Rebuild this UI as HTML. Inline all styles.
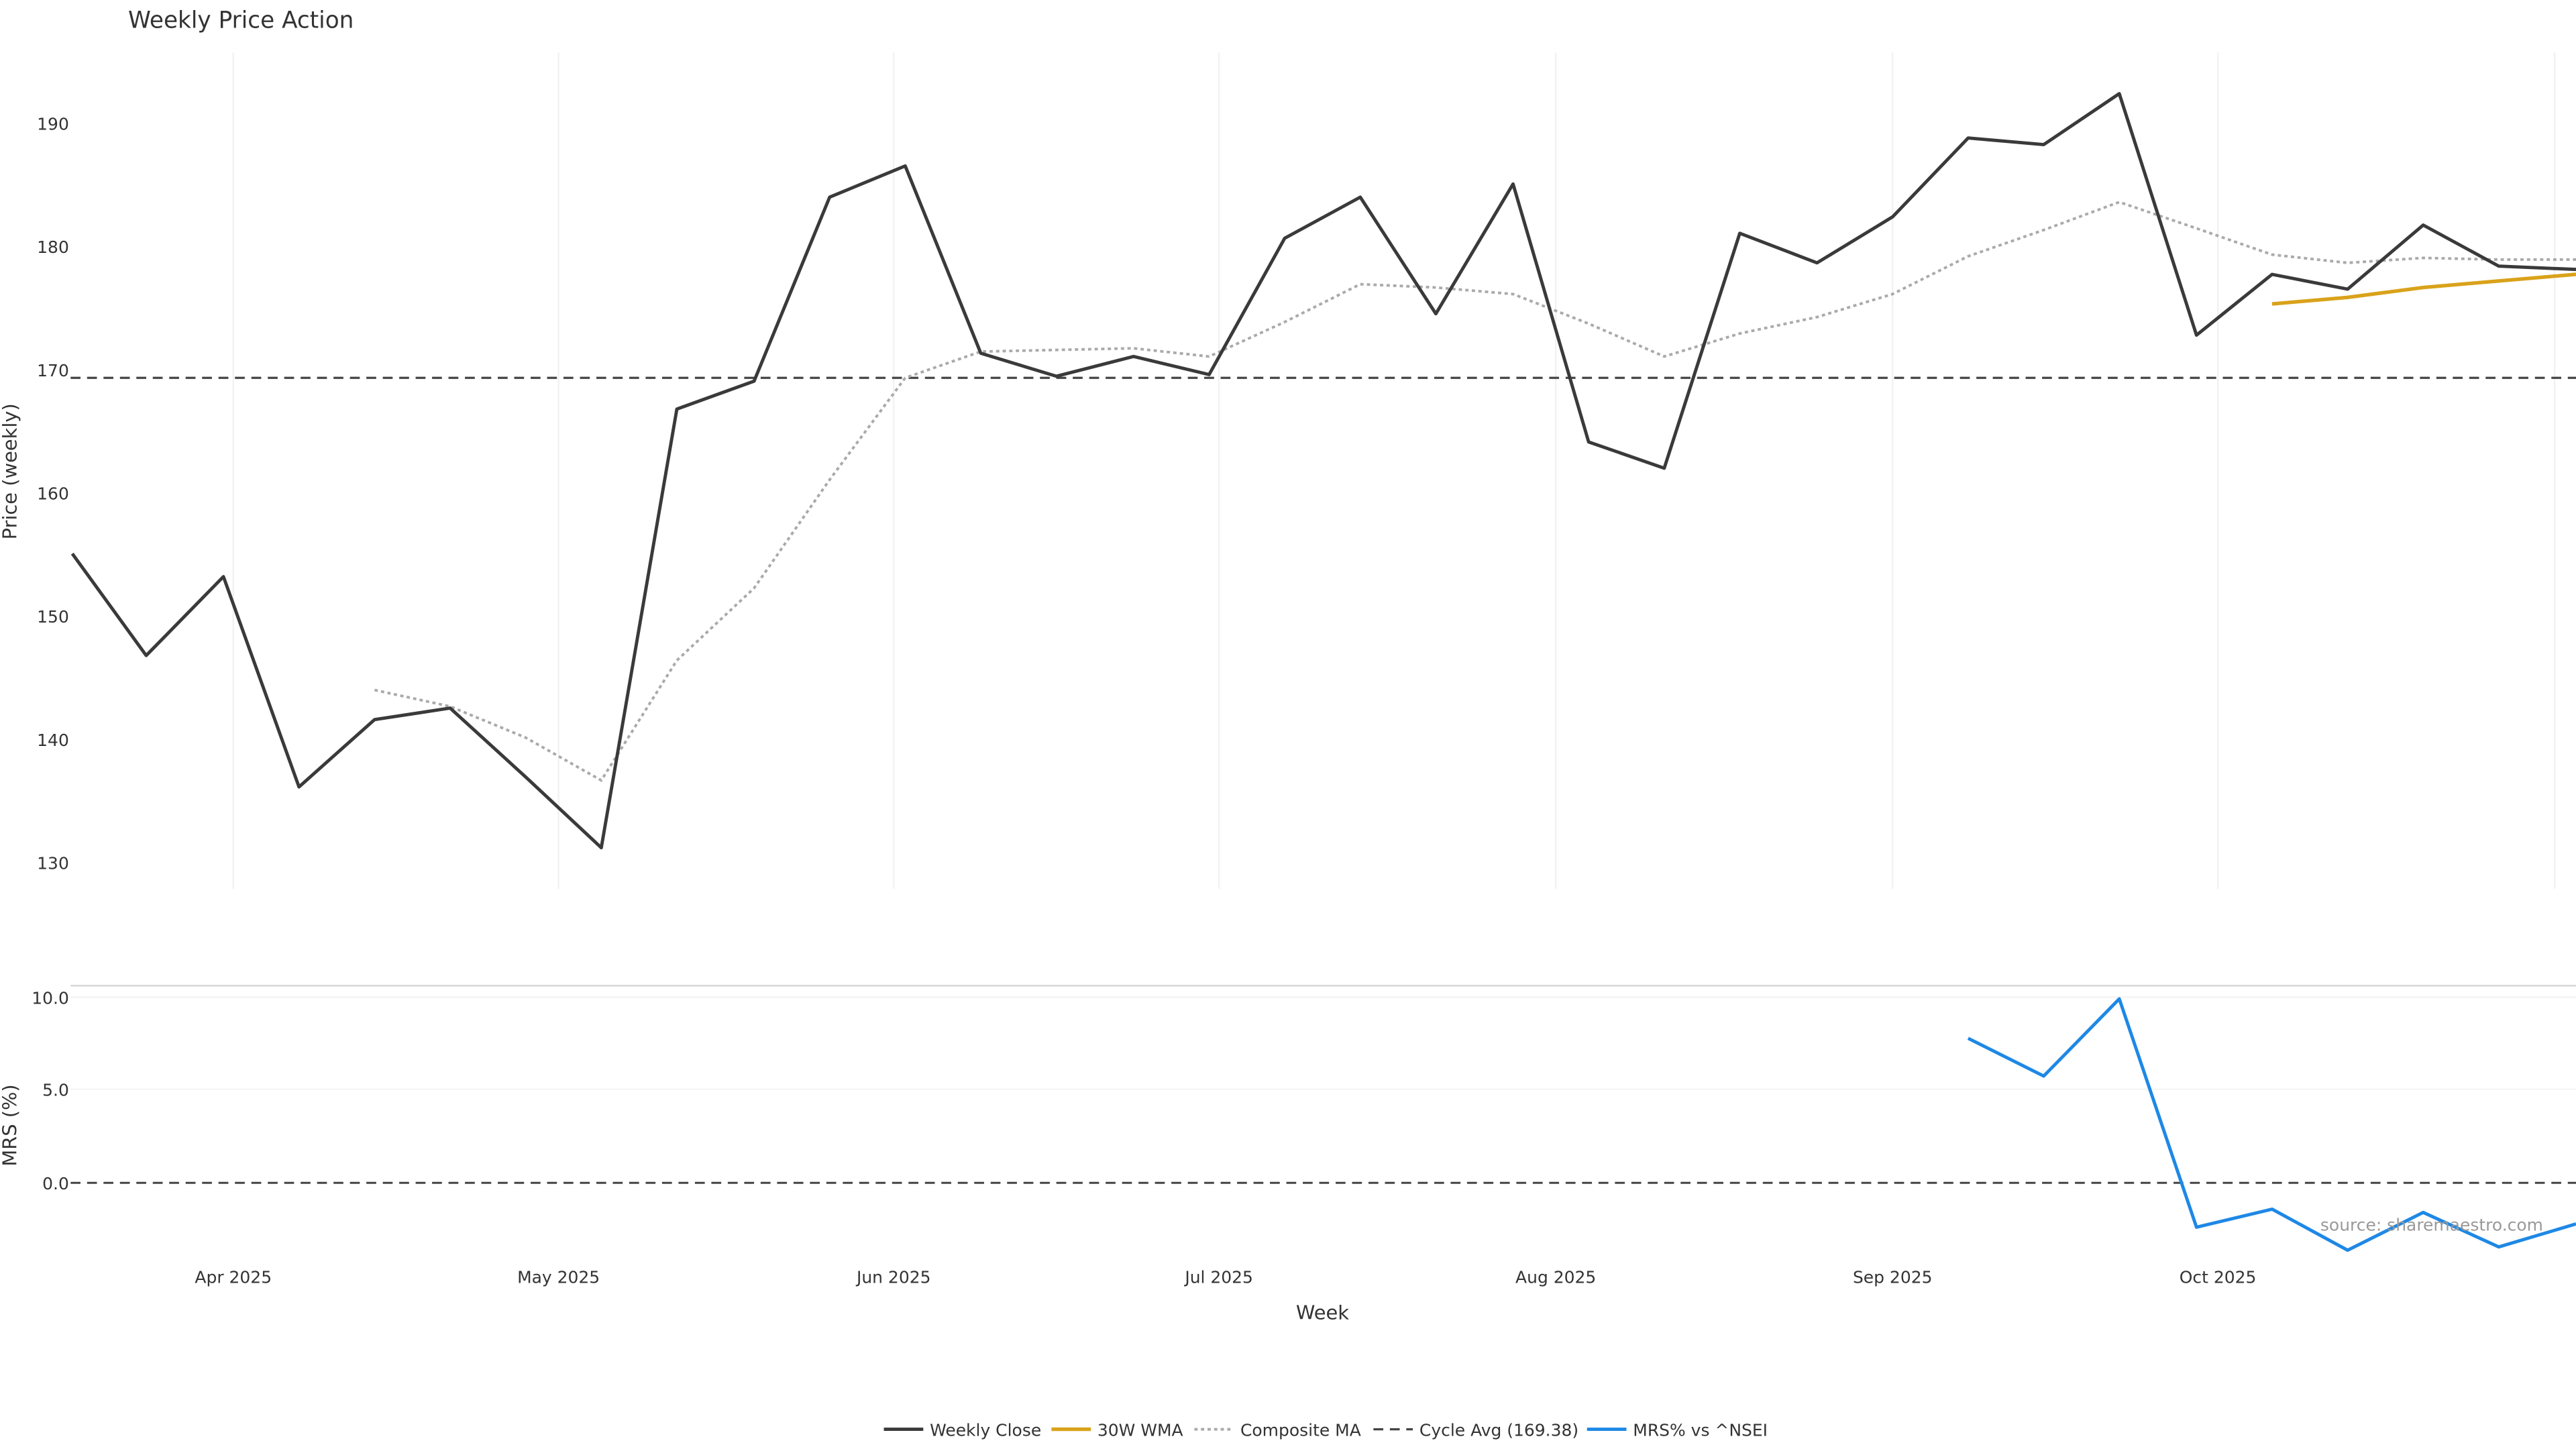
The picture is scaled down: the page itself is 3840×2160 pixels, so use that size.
<!DOCTYPE html>
<html><head><meta charset="utf-8"><style>
html,body{margin:0;padding:0;background:#fff;}
svg{display:block;}
text{font-family:"DejaVu Sans","Liberation Sans",sans-serif;fill:#333;}
</style></head><body>
<svg width="3840" height="2160" viewBox="0 0 1568 882" preserveAspectRatio="none" xmlns="http://www.w3.org/2000/svg">
<rect width="1568" height="882" fill="#fff"/>
<text x="78" y="17" font-size="14">Weekly Price Action</text>
<g stroke="#f2f2f2" stroke-width="1">
<line x1="142" y1="32" x2="142" y2="541"/><line x1="340" y1="32" x2="340" y2="541"/>
<line x1="544" y1="32" x2="544" y2="541"/><line x1="742" y1="32" x2="742" y2="541"/>
<line x1="947" y1="32" x2="947" y2="541"/><line x1="1152" y1="32" x2="1152" y2="541"/>
<line x1="1350" y1="32" x2="1350" y2="541"/><line x1="1555" y1="32" x2="1555" y2="541"/>
<line x1="43" y1="607" x2="1568" y2="607" stroke="#f4f4f4"/>
<line x1="43" y1="663" x2="1568" y2="663" stroke="#f4f4f4"/>
</g>
<g font-size="10.2" text-anchor="end">
<text x="42" y="79">190</text><text x="42" y="154">180</text><text x="42" y="229">170</text>
<text x="42" y="304">160</text><text x="42" y="379">150</text><text x="42" y="454">140</text><text x="42" y="529">130</text>
<text x="42" y="611">10.0</text><text x="42" y="667">5.0</text><text x="42" y="724">0.0</text>
</g>
<text transform="translate(10,287) rotate(-90)" font-size="11.8" text-anchor="middle">Price (weekly)</text>
<text transform="translate(10,685) rotate(-90)" font-size="11.8" text-anchor="middle">MRS (%)</text>
<line x1="43" y1="230" x2="1568" y2="230" stroke="#444" stroke-width="1.3" stroke-dasharray="6,4"/>
<polyline fill="none" stroke="#aaa" stroke-width="1.6" stroke-dasharray="2,2" points="228,420 274,430 320,449 366,475 412,402 459,358 505,292 551,230 597,214 643,213 690,212 736,217 782,196 828,173 874,175 921,179 967,197 1013,217 1059,203 1106,193 1152,179 1198,156 1244,140 1290,123 1337,139 1383,155 1429,160 1475,157 1521,158 1568,158"/>
<polyline fill="none" stroke="#3a3a3a" stroke-width="2" stroke-linejoin="round" points="44,337 89,399 136,351 182,479 228,438 274,431 320,473 366,516 412,249 459,232 505,120 551,101 597,215 643,229 690,217 736,228 782,145 828,120 874,191 921,112 967,269 1013,285 1059,142 1106,160 1152,132 1198,84 1244,88 1290,57 1337,204 1383,167 1429,176 1475,137 1521,162 1568,164"/>
<polyline fill="none" stroke="#d9a21a" stroke-width="2.2" points="1383,185 1429,181 1475,175 1521,171 1568,167"/>
<line x1="43" y1="600" x2="1568" y2="600" stroke="#d6d6d6" stroke-width="1"/>
<line x1="43" y1="720" x2="1568" y2="720" stroke="#444" stroke-width="1.2" stroke-dasharray="6,4"/>
<polyline fill="none" stroke="#1e88e5" stroke-width="2" stroke-linejoin="round" points="1198,632 1244,655 1290,608 1337,747 1383,736 1429,761 1475,738 1521,759 1568,745"/>
<text x="1548" y="749" font-size="10.2" text-anchor="end" style="fill:#999">source: sharemaestro.com</text>
<g font-size="10.2" text-anchor="middle">
<text x="142" y="781">Apr 2025</text><text x="340" y="781">May 2025</text><text x="544" y="781">Jun 2025</text>
<text x="742" y="781">Jul 2025</text><text x="947" y="781">Aug 2025</text><text x="1152" y="781">Sep 2025</text>
<text x="1350" y="781">Oct 2025</text>
</g>
<text x="805" y="803" font-size="11.8" text-anchor="middle">Week</text>
<g font-size="10.2">
<line x1="538" y1="870" x2="562" y2="870" stroke="#3a3a3a" stroke-width="2"/>
<text x="566" y="874">Weekly Close</text>
<line x1="640" y1="870" x2="664" y2="870" stroke="#d9a21a" stroke-width="2.2"/>
<text x="668" y="874">30W WMA</text>
<line x1="727" y1="870" x2="751" y2="870" stroke="#aaa" stroke-width="1.6" stroke-dasharray="2,2"/>
<text x="755" y="874">Composite MA</text>
<line x1="836" y1="870" x2="860" y2="870" stroke="#444" stroke-width="1.3" stroke-dasharray="6,4"/>
<text x="864" y="874">Cycle Avg (169.38)</text>
<line x1="966" y1="870" x2="990" y2="870" stroke="#1e88e5" stroke-width="2"/>
<text x="994" y="874">MRS% vs ^NSEI</text>
</g>
</svg>
</body></html>
